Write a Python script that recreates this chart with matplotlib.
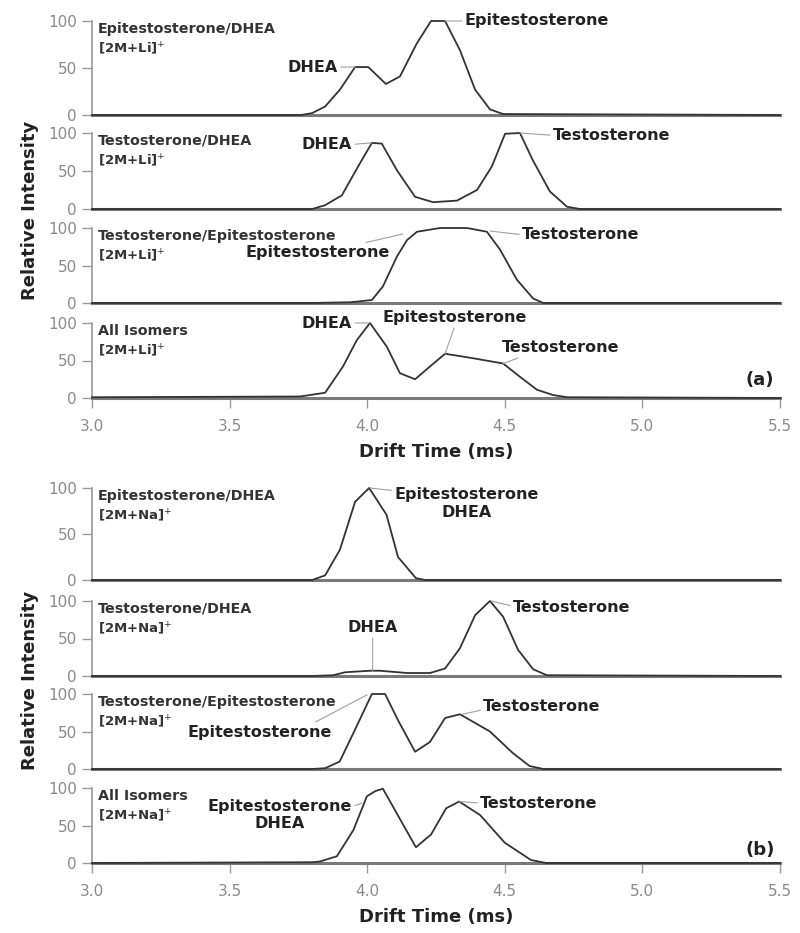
import matplotlib.pyplot as plt

# --- data: drift time (ms) vs relative intensity ---
# (a) [2M+Li]+ adducts
a1_x = [3.0, 3.76, 3.80, 3.847, 3.901, 3.956, 4.004, 4.068, 4.119, 4.180, 4.232, 4.283, 4.337, 4.392, 4.446, 4.494, 5.5]
a1_y = [0, 0, 2, 9, 27, 51, 51, 33, 41, 76, 100, 100, 69, 27, 6, 1, 0]

a2_x = [3.0, 3.80, 3.847, 3.908, 3.967, 4.017, 4.053, 4.108, 4.174, 4.239, 4.326, 4.399, 4.453, 4.501, 4.555, 4.602, 4.664, 4.726, 4.773, 5.5]
a2_y = [0, 0, 5, 18, 56, 87, 86, 51, 16, 9, 11, 25, 56, 99, 100, 64, 23, 3, 0, 0]

a3_x = [3.0, 3.80, 3.94, 4.017, 4.057, 4.108, 4.145, 4.181, 4.265, 4.363, 4.435, 4.483, 4.544, 4.603, 4.640, 5.5]
a3_y = [0, 0, 1, 4, 22, 62, 84, 95, 100, 100, 95, 71, 31, 6, 0, 0]

a4_x = [3.0, 3.756, 3.847, 3.912, 3.962, 4.010, 4.072, 4.119, 4.174, 4.228, 4.283, 4.385, 4.494, 4.556, 4.617, 4.675, 4.726, 5.5]
a4_y = [1, 2, 7, 42, 77, 100, 68, 33, 25, 42, 59, 53, 46, 28, 11, 4, 1, 0]

# (b) [2M+Na]+ adducts
b1_x = [3.0, 3.80, 3.847, 3.901, 3.956, 4.007, 4.07, 4.112, 4.177, 4.21, 5.5]
b1_y = [0, 0, 5, 33, 85, 100, 71, 25, 2, 0, 0]

b2_x = [3.0, 3.80, 3.876, 3.92, 4.01, 4.047, 4.145, 4.228, 4.283, 4.337, 4.392, 4.446, 4.494, 4.548, 4.603, 4.653, 5.5]
b2_y = [0, 0, 1, 5, 7, 7, 4, 4, 10, 37, 81, 100, 79, 35, 9, 1, 0]

b3_x = [3.0, 3.80, 3.847, 3.90, 3.95, 4.017, 4.065, 4.112, 4.174, 4.228, 4.283, 4.337, 4.446, 4.53, 4.59, 4.64, 5.5]
b3_y = [0, 0, 1, 10, 48, 100, 100, 65, 23, 36, 68, 73, 50, 21, 4, 0, 0]

b4_x = [3.0, 3.80, 3.828, 3.89, 3.95, 3.999, 4.03, 4.057, 4.177, 4.232, 4.287, 4.334, 4.41, 4.50, 4.595, 4.65, 5.5]
b4_y = [0, 1, 2, 9, 44, 89, 96, 99, 21, 38, 73, 82, 64, 27, 4, 0, 0]

x_ticks = [3.0, 3.5, 4.0, 4.5, 5.0, 5.5]
y_ticks = [0, 50, 100]

fig = plt.figure(figsize=(8, 9.33), dpi=100)
W, H = 800, 933


def panel(top, bottom, x, y, name, ion, bottom_axis=False):
    ax = fig.add_axes([92 / W, 1 - bottom / H, 688 / W, (bottom - top) / H])
    ax.plot(x, y, color='#333333', lw=1.3, clip_on=False, zorder=3)
    ax.set_xlim(3.0, 5.5)
    ax.set_ylim(0, 100)
    for s in ['top', 'right']:
        ax.spines[s].set_visible(False)
    ax.spines['left'].set_color('#9a9a9a')
    ax.spines['left'].set_linewidth(1.2)
    ax.spines['bottom'].set_color('#7a7a7a')
    ax.spines['bottom'].set_linewidth(2.2)
    ax.set_yticks(y_ticks)
    ax.tick_params(axis='y', direction='out', length=7, width=1, color='#9a9a9a',
                   labelcolor='#8a8a8a', labelsize=11, pad=4)
    if bottom_axis:
        ax.set_xticks(x_ticks)
        ax.set_xticklabels([f"{t:.1f}" for t in x_ticks])
        ax.tick_params(axis='x', direction='out', length=7, width=1, color='#9a9a9a',
                       labelcolor='#8a8a8a', labelsize=11, pad=8)
    else:
        ax.tick_params(axis='x', bottom=False, labelbottom=False)
    ax.annotate(name, xy=(0, 1), xycoords='axes fraction', xytext=(6, -8),
                textcoords='offset pixels', va='center', ha='left',
                fontsize=10.3, fontweight='bold', color='#333333')
    ax.annotate(ion, xy=(0, 1), xycoords='axes fraction', xytext=(6, -28),
                textcoords='offset pixels', va='center', ha='left',
                fontsize=9.5, fontweight='bold', color='#333333')
    return ax


def label(ax, text, xy, xytext, ha='left', relpos=(0, 0.5)):
    ax.annotate(text, xy=xy, xytext=xytext, ha=ha, va='center', multialignment='center',
                fontsize=11.5, fontweight='bold', color='#222222', linespacing=1.2,
                annotation_clip=False, zorder=4,
                arrowprops=dict(arrowstyle='-', color='#a0a0a0', lw=0.8,
                                shrinkA=0, shrinkB=0, relpos=relpos))


li = r'[2M+Li]$^{+}$'
na = r'[2M+Na]$^{+}$'

# --- (a) ---
ax = panel(21, 115, a1_x, a1_y, 'Epitestosterone/DHEA', li)
label(ax, 'DHEA', (3.956, 51), (3.894, 51), ha='right', relpos=(1, 0.5))
label(ax, 'Epitestosterone', (4.283, 100), (4.355, 100))

ax = panel(133, 209, a2_x, a2_y, 'Testosterone/DHEA', li)
label(ax, 'DHEA', (4.017, 87), (3.945, 85), ha='right', relpos=(1, 0.5))
label(ax, 'Testosterone', (4.555, 100), (4.675, 97))

ax = panel(228, 303, a3_x, a3_y, 'Testosterone/Epitestosterone', li)
label(ax, 'Epitestosterone', (4.13, 92), (4.083, 67), ha='right', relpos=(0.75, 1))
label(ax, 'Testosterone', (4.446, 96), (4.5625, 91))

ax = panel(323, 398, a4_x, a4_y, 'All Isomers', li, bottom_axis=True)
label(ax, 'DHEA', (4.01, 100), (3.945, 100), ha='right', relpos=(1, 0.5))
label(ax, 'Epitestosterone', (4.283, 59), (4.319, 107), ha='center', relpos=(0.5, 0))
label(ax, 'Testosterone', (4.494, 46), (4.49, 67), relpos=(0.2, 0))
ax.text(5.48, 24, '(a)', ha='right', va='center', fontsize=13, fontweight='bold', color='#222222')

# --- (b) ---
ax = panel(488, 580, b1_x, b1_y, 'Epitestosterone/DHEA', na)
label(ax, 'Epitestosterone\nDHEA', (4.01, 100), (4.36, 83), ha='center', relpos=(0, 0.9))

ax = panel(601, 676, b2_x, b2_y, 'Testosterone/DHEA', na)
label(ax, 'DHEA', (4.02, 6), (4.02, 64), ha='center', relpos=(0.5, 0))
label(ax, 'Testosterone', (4.45, 100), (4.53, 91), relpos=(0, 0.6))

ax = panel(694, 769, b3_x, b3_y, 'Testosterone/Epitestosterone', na)
label(ax, 'Epitestosterone', (4.0, 99), (3.872, 49), ha='right', relpos=(0.85, 1))
label(ax, 'Testosterone', (4.345, 73), (4.421, 83), relpos=(0, 0.3))

ax = panel(788, 863, b4_x, b4_y, 'All Isomers', na, bottom_axis=True)
label(ax, 'Epitestosterone\nDHEA', (3.98, 80), (3.683, 64), ha='center', relpos=(1, 0.75))
label(ax, 'Testosterone', (4.335, 82), (4.41, 80))
ax.text(5.48, 17, '(b)', ha='right', va='center', fontsize=13, fontweight='bold', color='#222222')

# --- shared axis titles ---
for yc in [210, 680]:
    fig.text(30 / W, 1 - yc / H, 'Relative Intensity', rotation=90, ha='center', va='center',
             fontsize=13, fontweight='bold', color='#222222')
for yc in [452, 917]:
    fig.text(436 / W, 1 - yc / H, 'Drift Time (ms)', ha='center', va='center',
             fontsize=13, fontweight='bold', color='#222222')

plt.savefig('out.png', dpi=100)
